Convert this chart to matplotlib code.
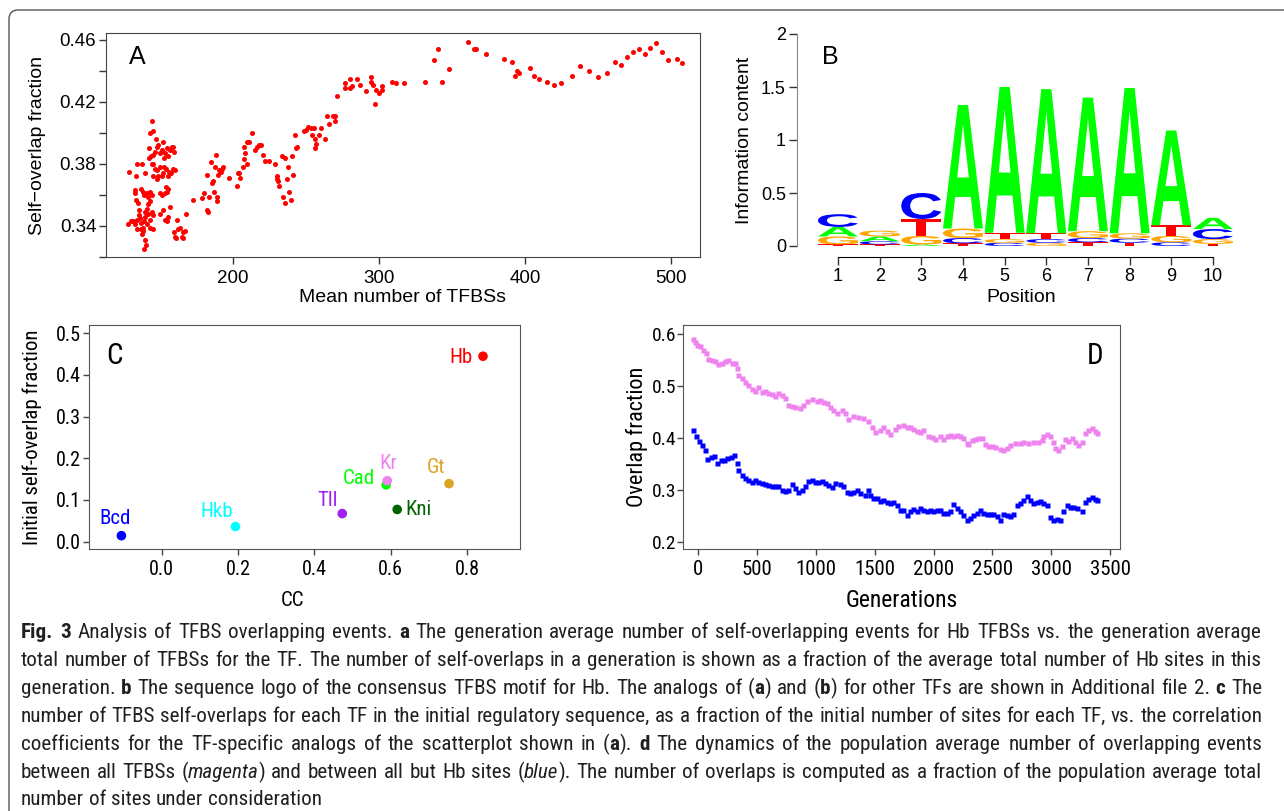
import os
import re

import matplotlib
matplotlib.use("Agg")
import matplotlib.pyplot as plt
import matplotlib.transforms as mtrans
from matplotlib import font_manager
from matplotlib.font_manager import FontProperties
from matplotlib.patches import FancyBboxPatch, PathPatch
from matplotlib.textpath import TextPath

W, H = 1284, 811

# ---- panel A: self-overlap fraction vs mean number of TFBSs ----
a_x = [128.1, 128.5, 129.9, 131.7, 132.9, 133.6, 132.6, 133.1, 133.6, 134.0,
       134.5, 134.9, 135.4, 135.8, 136.3, 136.8, 137.2, 137.7, 138.1, 138.6,
       139.0, 139.5, 139.9, 140.4, 138.8, 134.5, 137.7, 139.5, 136.8, 138.1,
       139.0, 140.9, 142.0, 143.1, 144.3, 143.1, 142.0, 140.9, 139.7, 142.0,
       144.3, 145.4, 143.1, 140.9, 143.1, 145.0, 144.3, 145.4, 143.1, 142.7,
       143.6, 142.2, 144.3, 145.4, 147.3, 146.6, 147.7, 148.9, 150.0, 151.1,
       152.3, 152.7, 153.4, 154.6, 155.7, 156.8, 158.0, 159.1, 159.6, 160.3,
       158.7, 157.5, 156.4, 155.2, 154.1, 152.7, 151.8, 151.1, 150.0, 148.9,
       148.2, 146.6, 145.4, 145.4, 147.7, 150.0, 151.1, 153.4, 154.6, 155.7,
       154.1, 156.8, 155.7, 154.6, 152.3, 150.0, 153.4, 159.6, 160.3, 161.0,
       162.6, 161.9, 163.7, 164.8, 165.5, 166.0, 167.1, 167.8,
       172.8, 178.5, 180.4, 182.4, 182.4, 183.1, 183.8, 184.9, 185.8, 186.5,
       187.2, 188.3, 188.8, 188.8, 187.7, 189.5, 190.6, 191.5, 192.2, 193.4,
       197.5, 202.5, 203.2, 204.3, 204.8, 207.1, 207.8, 208.2, 207.8, 209.8,
       211.2, 212.8, 209.4, 215.1, 216.2, 217.6, 219.2, 220.8, 221.9, 224.9,
       228.8, 229.9, 230.4, 231.0, 231.3, 233.3, 234.0, 235.6, 235.8, 236.7,
       237.9, 238.6, 239.5, 240.6, 240.9, 242.7, 243.1, 244.1,
       248.6, 250.0, 251.6, 253.2, 254.1, 255.7, 255.9, 255.9, 256.9, 259.1,
       260.1, 263.2, 264.2, 266.0, 268.3, 269.9, 269.9, 271.5, 276.7, 276.9,
       280.1, 280.1, 281.3, 285.2, 287.0, 291.1, 294.8, 294.8, 296.1, 297.5,
       297.9, 300.2, 302.1, 302.1, 308.7, 311.6, 316.9, 331.7, 337.4, 340.2,
       342.9, 347.7, 360.7, 365.3, 366.2, 373.3, 385.8, 390.9, 393.4, 394.8,
       395.7, 403.4,
       406.0, 410.0, 415.0, 420.0, 425.0, 432.0, 438.0, 444.0, 450.0, 456.0,
       462.0, 466.0, 470.0, 474.0, 478.0, 482.0, 486.0, 490.0, 494.0, 498.0,
       504.0, 508.0]
a_y = [0.341, 0.375, 0.343, 0.343, 0.341, 0.372, 0.363, 0.361, 0.357, 0.344,
       0.338, 0.355, 0.350, 0.347, 0.345, 0.342, 0.338, 0.335, 0.339, 0.337,
       0.343, 0.346, 0.331, 0.328, 0.325, 0.380, 0.380, 0.374, 0.364, 0.362,
       0.360, 0.361, 0.359, 0.362, 0.360, 0.356, 0.354, 0.351, 0.349, 0.348,
       0.349, 0.347, 0.344, 0.341, 0.339, 0.338, 0.408, 0.401, 0.400, 0.390,
       0.385, 0.384, 0.380, 0.386, 0.396, 0.388, 0.391, 0.392, 0.387, 0.389,
       0.394, 0.384, 0.387, 0.390, 0.385, 0.389, 0.391, 0.391, 0.388, 0.376,
       0.377, 0.374, 0.375, 0.372, 0.377, 0.378, 0.374, 0.372, 0.378, 0.372,
       0.376, 0.377, 0.380, 0.372, 0.370, 0.361, 0.360, 0.361, 0.362, 0.364,
       0.365, 0.352, 0.346, 0.343, 0.350, 0.348, 0.344, 0.336, 0.333, 0.332,
       0.338, 0.344, 0.339, 0.333, 0.332, 0.336, 0.337, 0.348,
       0.357, 0.358, 0.361, 0.373, 0.350, 0.349, 0.359, 0.381, 0.368, 0.369,
       0.362, 0.386, 0.356, 0.359, 0.378, 0.373, 0.376, 0.375, 0.377, 0.378,
       0.371, 0.366, 0.374, 0.374, 0.371, 0.378, 0.383, 0.387, 0.391, 0.394,
       0.394, 0.400, 0.380, 0.389, 0.391, 0.392, 0.392, 0.386, 0.382, 0.382,
       0.380, 0.372, 0.370, 0.369, 0.366, 0.385, 0.359, 0.384, 0.355, 0.370,
       0.378, 0.362, 0.357, 0.385, 0.373, 0.399, 0.390, 0.391,
       0.401, 0.402, 0.404, 0.403, 0.399, 0.403, 0.396, 0.390, 0.393, 0.399,
       0.403, 0.396, 0.411, 0.406, 0.411, 0.411, 0.408, 0.424, 0.429, 0.432,
       0.429, 0.435, 0.430, 0.435, 0.431, 0.427, 0.436, 0.433, 0.431, 0.419,
       0.428, 0.426, 0.430, 0.428, 0.433, 0.432, 0.432, 0.433, 0.447, 0.454,
       0.433, 0.441, 0.459, 0.454, 0.454, 0.451, 0.448, 0.446, 0.437, 0.440,
       0.439, 0.442,
       0.437, 0.435, 0.433, 0.431, 0.432, 0.437, 0.443, 0.440, 0.436, 0.439,
       0.446, 0.444, 0.449, 0.452, 0.454, 0.451, 0.455, 0.458, 0.452, 0.447,
       0.448, 0.445]

# ---- panel B: sequence logo (bits per letter, positions 1..10) ----
positions = list(range(1, 11))
logo_A = [0.09, 0.045, 0.015, 1.165, 1.375, 1.36, 1.26, 1.37, 0.895, 0.105]
logo_C = [0.12, 0.03, 0.245, 0.05, 0.03, 0.035, 0.04, 0.04, 0.035, 0.095]
logo_G = [0.075, 0.055, 0.08, 0.09, 0.035, 0.03, 0.065, 0.05, 0.06, 0.045]
logo_T = [0.015, 0.015, 0.16, 0.025, 0.06, 0.055, 0.035, 0.03, 0.10, 0.02]

# ---- panel C: initial self-overlap vs CC ----
tf_names = ["Bcd", "Hkb", "Tll", "Cad", "Kr", "Kni", "Gt", "Hb"]
tf_cc = [-0.106, 0.193, 0.473, 0.588, 0.591, 0.617, 0.753, 0.842]
tf_overlap = [0.014, 0.036, 0.067, 0.136, 0.146, 0.077, 0.139, 0.445]

# ---- panel D: overlap fraction over generations ----
gen_all = [-43, -28, -9, 14, 43, 65, 85, 113, 142, 170, 198, 227, 255, 283,
           312, 332, 340, 368, 397, 425, 453, 482, 510, 538, 567, 595, 623,
           652, 680, 708, 737, 765, 794, 822, 864, 893, 921, 964, 1006, 1034,
           1063, 1091, 1119, 1148, 1176, 1219, 1247, 1275, 1318, 1360, 1403,
           1445, 1474, 1502, 1545, 1573, 1601, 1630, 1672, 1700, 1743, 1771,
           1800, 1828, 1856, 1885, 1913, 1955, 1984, 2012, 2055, 2083, 2111,
           2140, 2168, 2196, 2225, 2253, 2281, 2296, 2324, 2352, 2381, 2409,
           2437, 2466, 2494, 2522, 2565, 2593, 2621, 2650, 2692, 2735, 2763,
           2806, 2848, 2891, 2919, 2933, 2962, 2990, 3019, 3033, 3061, 3089,
           3117, 3146, 3174, 3202, 3231, 3259, 3287, 3316, 3344, 3372, 3387]
ov_all = [0.590, 0.585, 0.579, 0.576, 0.569, 0.563, 0.551, 0.550, 0.547,
          0.542, 0.545, 0.547, 0.549, 0.545, 0.544, 0.534, 0.521, 0.515,
          0.508, 0.502, 0.494, 0.491, 0.498, 0.489, 0.491, 0.486, 0.484,
          0.480, 0.486, 0.483, 0.476, 0.464, 0.462, 0.459, 0.457, 0.464,
          0.472, 0.475, 0.472, 0.473, 0.470, 0.467, 0.460, 0.454, 0.449,
          0.453, 0.448, 0.436, 0.443, 0.441, 0.438, 0.432, 0.422, 0.412,
          0.416, 0.422, 0.414, 0.408, 0.417, 0.423, 0.425, 0.422, 0.421,
          0.417, 0.414, 0.411, 0.416, 0.404, 0.402, 0.399, 0.403, 0.398,
          0.403, 0.406, 0.403, 0.406, 0.404, 0.400, 0.391, 0.389, 0.396,
          0.398, 0.400, 0.400, 0.389, 0.385, 0.384, 0.382, 0.379, 0.377,
          0.380, 0.387, 0.390, 0.391, 0.393, 0.391, 0.393, 0.393, 0.396,
          0.403, 0.408, 0.404, 0.393, 0.380, 0.377, 0.384, 0.398, 0.395,
          0.400, 0.393, 0.387, 0.393, 0.409, 0.416, 0.419, 0.414, 0.409]
gen_nohb = [-43, -20, 3, 28, 57, 77, 105, 133, 162, 190, 218, 247, 275, 303,
            326, 340, 368, 397, 425, 453, 482, 510, 538, 567, 595, 623, 652,
            680, 708, 737, 765, 794, 822, 850, 879, 907, 935, 964, 992, 1020,
            1049, 1077, 1105, 1134, 1162, 1204, 1233, 1261, 1289, 1318, 1346,
            1375, 1417, 1445, 1460, 1488, 1516, 1545, 1573, 1601, 1630, 1658,
            1686, 1715, 1743, 1771, 1800, 1828, 1856, 1885, 1913, 1941, 1970,
            1998, 2026, 2055, 2083, 2111, 2140, 2168, 2196, 2225, 2253, 2281,
            2310, 2338, 2366, 2395, 2423, 2451, 2480, 2508, 2536, 2565, 2593,
            2621, 2650, 2678, 2706, 2735, 2763, 2791, 2820, 2848, 2876, 2905,
            2933, 2962, 2990, 3019, 3047, 3075, 3103, 3132, 3160, 3188, 3217,
            3259, 3287, 3316, 3344, 3372, 3387]
ov_nohb = [0.416, 0.403, 0.395, 0.387, 0.377, 0.359, 0.364, 0.366, 0.353,
           0.357, 0.358, 0.361, 0.363, 0.367, 0.352, 0.339, 0.329, 0.323,
           0.320, 0.315, 0.320, 0.316, 0.313, 0.312, 0.310, 0.308, 0.308,
           0.307, 0.300, 0.299, 0.300, 0.312, 0.304, 0.297, 0.300, 0.307,
           0.318, 0.320, 0.316, 0.315, 0.318, 0.313, 0.310, 0.306, 0.313,
           0.312, 0.308, 0.297, 0.295, 0.297, 0.300, 0.294, 0.291, 0.300,
           0.291, 0.284, 0.284, 0.280, 0.281, 0.278, 0.276, 0.278, 0.272,
           0.262, 0.262, 0.252, 0.259, 0.263, 0.259, 0.265, 0.262, 0.259,
           0.262, 0.259, 0.262, 0.262, 0.256, 0.257, 0.259, 0.274, 0.265,
           0.259, 0.252, 0.243, 0.246, 0.252, 0.256, 0.262, 0.256, 0.254,
           0.254, 0.254, 0.251, 0.243, 0.254, 0.252, 0.251, 0.254, 0.272,
           0.276, 0.281, 0.288, 0.281, 0.276, 0.278, 0.280, 0.276, 0.272,
           0.249, 0.243, 0.244, 0.242, 0.259, 0.272, 0.268, 0.268, 0.265,
           0.259, 0.278, 0.283, 0.286, 0.283, 0.281]

caption_lines = [
    "**Fig.** **3** Analysis of TFBS overlapping events. **a** The generation average number of self-overlapping events for Hb TFBSs vs. the generation average",
    "total number of TFBSs for the TF. The number of self-overlaps in a generation is shown as a fraction of the average total number of Hb sites in this",
    "generation. **b** The sequence logo of the consensus TFBS motif for Hb. The analogs of (**a**) and (**b**) for other TFs are shown in Additional file 2. **c** The",
    "number of TFBS self-overlaps for each TF in the initial regulatory sequence, as a fraction of the initial number of sites for each TF, vs. the correlation",
    "coefficients for the TF-specific analogs of the scatterplot shown in (**a**). **d** The dynamics of the population average number of overlapping events",
    "between all TFBSs (_magenta_) and between all but Hb sites (_blue_). The number of overlaps is computed as a fraction of the population average total",
    "number of sites under consideration",
]

SANS = "Liberation Sans"
plt.rcParams["font.family"] = [SANS, "DejaVu Sans"]


def _wt(f):
    w = f.weight
    if isinstance(w, str):
        w = {"normal": 400, "regular": 400, "bold": 700}.get(w, 400)
    return w


def find_condensed():
    # look for a narrow / condensed sans face among the installed fonts
    prefs = ["Liberation Sans Narrow", "Noto Sans", "Roboto", "Open Sans",
             "DejaVu Sans"]
    for fam in prefs:
        faces = {}
        for f in font_manager.fontManager.ttflist:
            fn = os.path.basename(f.fname)
            if not f.name.startswith(fam) or "Mono" in f.name:
                continue
            if not ("Narrow" in fn or "Condensed" in fn or "Cond" in f.name):
                continue
            if "SemiCondensed" in fn or "ExtraCondensed" in fn:
                continue
            it = f.style in ("italic", "oblique")
            w = _wt(f)
            if w == 400 and not it:
                faces.setdefault("r", f.fname)
            elif w == 700 and not it:
                faces.setdefault("b", f.fname)
            elif w == 400 and it:
                faces.setdefault("i", f.fname)
        if "r" in faces:
            return faces
    return {}


COND = find_condensed()


def cfont(size, kind="r"):
    if kind in COND:
        return FontProperties(fname=COND[kind], size=size)
    if "r" in COND and kind == "i":
        return FontProperties(fname=COND["r"], size=size)
    return FontProperties(family=SANS, size=size * 0.88,
                          weight="bold" if kind == "b" else "normal",
                          style="italic" if kind == "i" else "normal")


fig = plt.figure(figsize=(W / 100, H / 100), dpi=100)


def px_axes(l, t, r, b):
    return fig.add_axes([l / W, 1 - b / H, (r - l) / W, (b - t) / H])


# outer rounded frame
fig.add_artist(FancyBboxPatch((9, -40), 1320, H - 10 + 40,
                              boxstyle="round,pad=0,rounding_size=9",
                              transform=mtrans.IdentityTransform(),
                              fill=False, ec="#555555", lw=1.0))

# ---------------- A ----------------
axA = px_axes(106, 33, 700, 257)
axA.scatter(a_x, a_y, s=13, color="#ff0000", lw=0)
axA.set_xlim(113, 520)
axA.set_ylim(0.320, 0.4645)
axA.set_xticks([200, 300, 400, 500])
axA.set_yticks([0.34, 0.38, 0.42, 0.46])
axA.set_yticklabels(["0.34", "0.38", "0.42", "0.46"])
axA.set_yticks([0.32, 0.36, 0.40, 0.44], minor=True)
axA.tick_params(which="both", length=5, width=1, color="#333333",
                labelsize=13.5, pad=2)
axA.tick_params(axis="x", pad=4)
for sp in axA.spines.values():
    sp.set_color("#444444")
axA.set_xlabel("Mean number of TFBSs", fontsize=14, va="center")
axA.set_ylabel("Self\u2212overlap fraction", fontsize=14, va="center")
axA.xaxis.set_label_coords(0.5, -0.179)
axA.yaxis.set_label_coords(-0.116, 0.5)
axA.text(0.053, 0.893, "A", transform=axA.transAxes, fontsize=18,
         ha="center", va="center")

# ---------------- B ----------------
axB = px_axes(797, 34, 1245, 246)
letter_fp = FontProperties(family=SANS, weight="bold")
logo_cols = {"A": "#00ff00", "C": "#0000ff", "G": "#ffa500", "T": "#ff0000"}
logo = {"A": logo_A, "C": logo_C, "G": logo_G, "T": logo_T}
for i, pos in enumerate(positions):
    stack = sorted(((logo[ch][i], ch) for ch in "ACGT"), key=lambda t: t[0])
    y0 = 0.0
    for hgt, ch in stack:
        tp = TextPath((0, 0), ch, size=1, prop=letter_fp)
        bb = tp.get_extents()
        tr = (mtrans.Affine2D().translate(-bb.x0, -bb.y0)
              .scale(0.96 / bb.width, hgt / bb.height)
              .translate(pos - 0.48, y0))
        axB.add_patch(PathPatch(tr.transform_path(tp), fc=logo_cols[ch],
                                ec="none"))
        y0 += hgt
axB.set_xlim(0.016, 10.77)
axB.set_ylim(0, 2)
axB.spines["top"].set_visible(False)
axB.spines["right"].set_visible(False)
axB.spines["left"].set_color("#888888")
axB.spines["left"].set_bounds(0, 2)
axB.spines["bottom"].set_position(("outward", 8))
axB.spines["bottom"].set_bounds(1, 10)
axB.set_xticks(positions)
axB.set_yticks([0, 0.5, 1, 1.5, 2])
axB.set_yticklabels(["0", "0.5", "1", "1.5", "2"])
axB.tick_params(length=6, width=1, color="#333333", labelsize=13)
axB.tick_params(axis="y", pad=2)
axB.tick_params(axis="x", pad=2)
axB.set_xlabel("Position", fontsize=14, va="center")
axB.set_ylabel("Information content", fontsize=14, va="center")
axB.xaxis.set_label_coords(0.5, -0.245)
axB.yaxis.set_label_coords(-0.118, 0.5)
axB.text(0.074, 0.89, "B", transform=axB.transAxes, fontsize=18,
         ha="center", va="center")

# ---------------- C ----------------
axC = px_axes(89, 325, 520, 549)
tf_cols = ["#0000ff", "#00ffff", "#a020f0", "#00ff00", "#ee82ee", "#006400",
           "#daa520", "#ff0000"]
lab_off = [(-6, 17), (-19, 15), (-15, 13), (-27, 6), (1, 17), (21, 0),
           (-13, 16), (-22, -1)]
axC.scatter(tf_cc, tf_overlap, s=48, c=tf_cols, lw=0, zorder=3)
for name, x, y, col, off in zip(tf_names, tf_cc, tf_overlap, tf_cols, lab_off):
    axC.annotate(name, (x, y), xytext=off, textcoords="offset pixels",
                 ha="center", va="center", color=col,
                 fontproperties=cfont(15))
axC.set_xlim(-0.191, 0.939)
axC.set_ylim(-0.018, 0.52)
axC.set_xticks([0.0, 0.2, 0.4, 0.6, 0.8])
axC.set_xticklabels(["0.0", "0.2", "0.4", "0.6", "0.8"])
axC.set_yticks([0.0, 0.1, 0.2, 0.3, 0.4, 0.5])
axC.set_yticklabels(["0.0", "0.1", "0.2", "0.3", "0.4", "0.5"])
axC.tick_params(length=4, width=1, color="#444444", pad=2)
axC.tick_params(axis="x", pad=4)
for lab in axC.get_xticklabels() + axC.get_yticklabels():
    lab.set_fontproperties(cfont(14.5))
for sp in axC.spines.values():
    sp.set_color("#555555")
axC.set_xlabel("CC", va="center", fontproperties=cfont(15))
axC.set_ylabel("Initial self-overlap fraction", va="center",
               fontproperties=cfont(15))
axC.xaxis.set_label_coords(0.473, -0.228)
axC.yaxis.set_label_coords(-0.132, 0.5)
axC.text(0.059, 0.862, "C", transform=axC.transAxes, ha="center",
         va="center", fontproperties=cfont(21))

# ---------------- D ----------------
axD = px_axes(683, 325, 1120, 549)
axD.plot(gen_all, ov_all, ls="none", marker="s", ms=3.6, color="#ee82ee",
         mec="none")
axD.plot(gen_nohb, ov_nohb, ls="none", marker="s", ms=3.6, color="#0000ff",
         mec="none")
axD.set_xlim(-130, 3585)
axD.set_ylim(0.187, 0.617)
axD.set_xticks([0, 500, 1000, 1500, 2000, 2500, 3000, 3500])
axD.set_yticks([0.2, 0.3, 0.4, 0.5, 0.6])
axD.set_yticklabels(["0.2", "0.3", "0.4", "0.5", "0.6"])
axD.tick_params(length=4, width=1, color="#444444", pad=1)
axD.tick_params(axis="x", pad=4)
for lab in axD.get_xticklabels():
    lab.set_fontproperties(cfont(15))
for lab in axD.get_yticklabels():
    lab.set_fontproperties(cfont(14))
for sp in axD.spines.values():
    sp.set_color("#555555")
axD.set_xlabel("Generations", va="center", fontproperties=cfont(17))
axD.set_ylabel("Overlap fraction", va="center", fontproperties=cfont(16))
axD.xaxis.set_label_coords(0.5, -0.228)
axD.yaxis.set_label_coords(-0.106, 0.5)
axD.text(0.944, 0.862, "D", transform=axD.transAxes, ha="center",
         va="center", fontproperties=cfont(21))

# ---------------- caption (justified, word by word) ----------------
renderer = fig.canvas.get_renderer()
cap_x0, cap_x1 = 21, 1262
cap_base = [638, 666, 694, 722, 750, 778, 805]
cap_col = "#231f20"


def parse_word(word):
    parts = []
    for bold, ital, plain in re.findall(r"\*\*(.+?)\*\*|_(.+?)_|([^*_]+)", word):
        if bold:
            parts.append((bold, "b"))
        elif ital:
            parts.append((ital, "i"))
        else:
            parts.append((plain, "r"))
    return parts


cap_rows = []
for line in caption_lines:
    row = []
    for word in line.split(" "):
        row.append([(fig.text(0, 0, s, color=cap_col, va="baseline",
                              fontproperties=cfont(15, k)), k)
                    for s, k in parse_word(word)])
    cap_rows.append(row)


def widths(row):
    return [[t.get_window_extent(renderer).width for t, _ in w] for w in row]


sp1 = fig.text(0, 0, "a a", fontproperties=cfont(15))
sp2 = fig.text(0, 0, "aa", fontproperties=cfont(15))
space15 = (sp1.get_window_extent(renderer).width
           - sp2.get_window_extent(renderer).width)
sp1.remove()
sp2.remove()

target = cap_x1 - cap_x0
ratios = []
for row in cap_rows[:-1]:
    ww = widths(row)
    natural = sum(sum(w) for w in ww) + space15 * (len(row) - 1)
    ratios.append(target / natural)
scale = min(ratios) * 0.995
space = space15 * scale
for row in cap_rows:
    for w in row:
        for t, k in w:
            t.set_fontproperties(cfont(15 * scale, k))

for li, row in enumerate(cap_rows):
    ww = widths(row)
    total = sum(sum(w) for w in ww)
    if li < len(cap_rows) - 1:
        gap = (target - total) / (len(row) - 1)
    else:
        gap = space
    x = cap_x0
    for parts, wl in zip(row, ww):
        for (t, _), wpx in zip(parts, wl):
            t.set_position((x / W, 1 - cap_base[li] / H))
            x += wpx
        x += gap

fig.savefig("out.png", dpi=100)
